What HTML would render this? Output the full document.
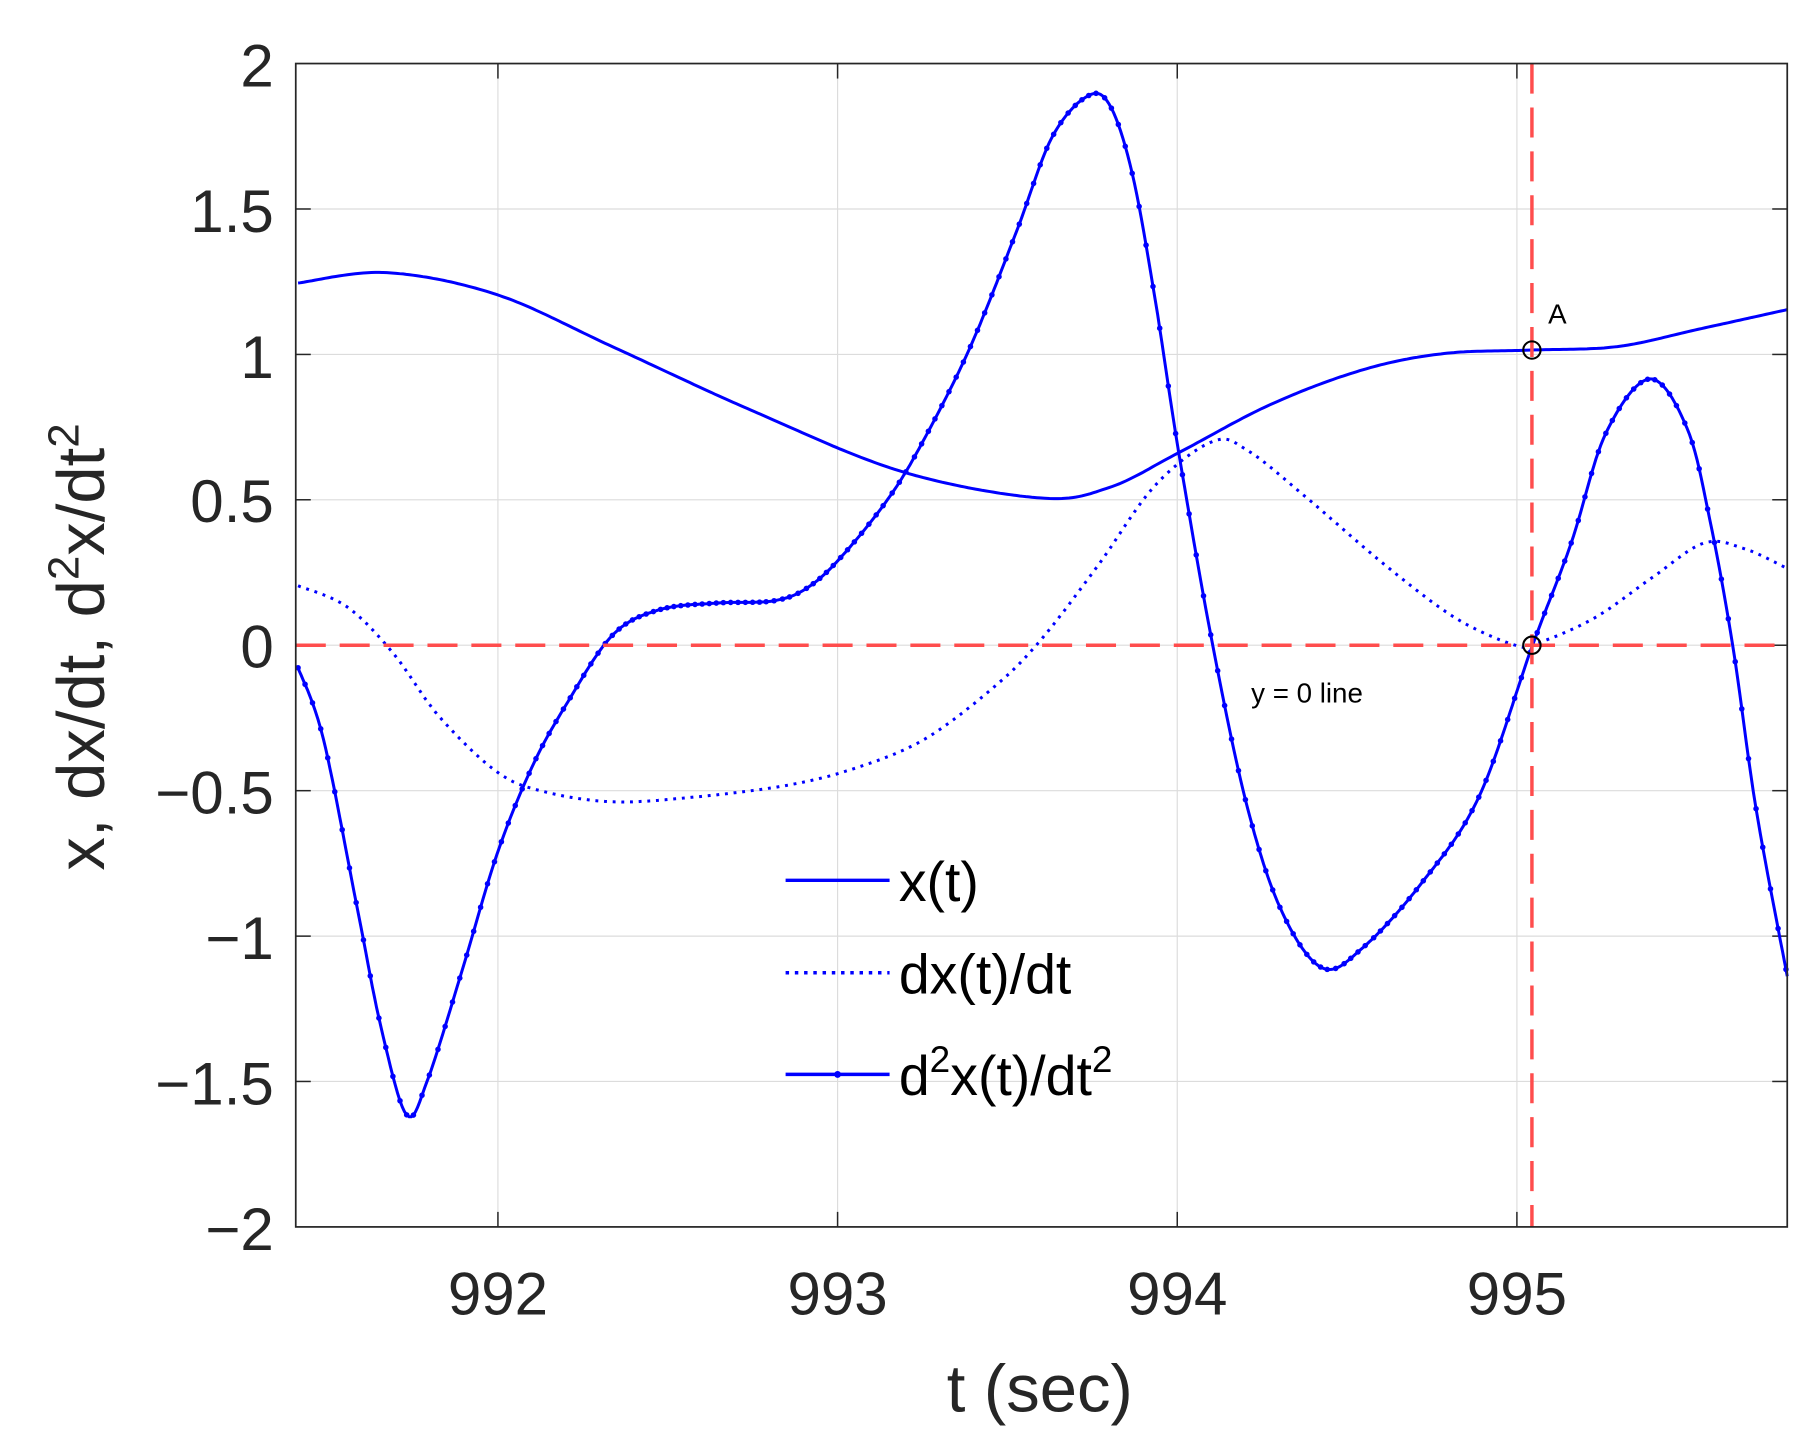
<!DOCTYPE html>
<html><head><meta charset="utf-8"><style>
html,body{margin:0;padding:0;background:#fff;}
svg{display:block;}
text{font-family:"Liberation Sans",sans-serif;fill:#262626;}
</style></head><body>
<svg id="s" width="1810" height="1453" viewBox="0 0 1566.7 1257.7" preserveAspectRatio="none" xmlns="http://www.w3.org/2000/svg">
<rect x="0" y="0" width="1566.7" height="1257.7" fill="#fff"/>
<g stroke="#dcdcdc" stroke-width="1">
<line x1="431" y1="55" x2="431" y2="1062"/><line x1="725" y1="55" x2="725" y2="1062"/>
<line x1="1019" y1="55" x2="1019" y2="1062"/><line x1="1313" y1="55" x2="1313" y2="1062"/>
<line x1="256" y1="180.9" x2="1547" y2="180.9"/><line x1="256" y1="306.8" x2="1547" y2="306.8"/>
<line x1="256" y1="432.6" x2="1547" y2="432.6"/><line x1="256" y1="558.5" x2="1547" y2="558.5"/>
<line x1="256" y1="684.4" x2="1547" y2="684.4"/><line x1="256" y1="810.3" x2="1547" y2="810.3"/>
<line x1="256" y1="936.1" x2="1547" y2="936.1"/>
</g>
<g stroke="#262626" stroke-width="1.3">
<line x1="431" y1="1062" x2="431" y2="1049"/><line x1="725" y1="1062" x2="725" y2="1049"/>
<line x1="1019" y1="1062" x2="1019" y2="1049"/><line x1="1313" y1="1062" x2="1313" y2="1049"/>
<line x1="431" y1="55" x2="431" y2="68"/><line x1="725" y1="55" x2="725" y2="68"/>
<line x1="1019" y1="55" x2="1019" y2="68"/><line x1="1313" y1="55" x2="1313" y2="68"/>
<line x1="256" y1="180.9" x2="269" y2="180.9"/><line x1="256" y1="306.8" x2="269" y2="306.8"/>
<line x1="256" y1="432.6" x2="269" y2="432.6"/><line x1="256" y1="558.5" x2="269" y2="558.5"/>
<line x1="256" y1="684.4" x2="269" y2="684.4"/><line x1="256" y1="810.3" x2="269" y2="810.3"/>
<line x1="256" y1="936.1" x2="269" y2="936.1"/>
<line x1="1547" y1="180.9" x2="1534" y2="180.9"/><line x1="1547" y1="306.8" x2="1534" y2="306.8"/>
<line x1="1547" y1="432.6" x2="1534" y2="432.6"/><line x1="1547" y1="558.5" x2="1534" y2="558.5"/>
<line x1="1547" y1="684.4" x2="1534" y2="684.4"/><line x1="1547" y1="810.3" x2="1534" y2="810.3"/>
<line x1="1547" y1="936.1" x2="1534" y2="936.1"/>
</g>
<g id="curves"></g>
<line x1="256" y1="558.5" x2="1547" y2="558.5" stroke="#ff4d4d" stroke-width="3" stroke-dasharray="26,12"/>
<line x1="1326" y1="55" x2="1326" y2="1062" stroke="#ff4d4d" stroke-width="3" stroke-dasharray="26,12"/>
<circle cx="1326" cy="303" r="7.5" fill="none" stroke="#000" stroke-width="1.8"/>
<circle cx="1326" cy="558.5" r="7.5" fill="none" stroke="#000" stroke-width="1.8"/>
<text x="1340" y="280" font-size="24" style="fill:#000">A</text>
<text x="1083" y="608" font-size="24" style="fill:#000">y = 0 line</text>
<rect x="256" y="55" width="1291" height="1007" fill="none" stroke="#262626" stroke-width="1.5"/>
<g font-size="52" text-anchor="end">
<text x="237" y="75">2</text><text x="237" y="201">1.5</text><text x="237" y="327">1</text>
<text x="237" y="452">0.5</text><text x="237" y="578">0</text><text x="237" y="704">−0.5</text>
<text x="237" y="830">−1</text><text x="237" y="956">−1.5</text><text x="237" y="1082">−2</text>
</g>
<g font-size="52" text-anchor="middle">
<text x="431" y="1138">992</text><text x="725" y="1138">993</text>
<text x="1019" y="1138">994</text><text x="1313" y="1138">995</text>
<text x="900" y="1222" font-size="58">t (sec)</text>
</g>
<text transform="translate(90,560) rotate(-90)" font-size="58" text-anchor="middle">x, dx/dt, d<tspan dy="-22" font-size="38">2</tspan><tspan dy="22">x/dt</tspan><tspan dy="-22" font-size="38">2</tspan></text>
<g stroke="#0000ff" stroke-width="3">
<line x1="680" y1="762" x2="770" y2="762"/>
<line x1="680" y1="842" x2="770" y2="842" stroke-dasharray="3,5"/>
<line x1="680" y1="930" x2="770" y2="930"/>
</g>
<circle cx="725" cy="930" r="3" fill="#0000ff"/>
<g font-size="48" style="fill:#000">
<text x="778" y="780" style="fill:#000">x(t)</text>
<text x="778" y="860" style="fill:#000">dx(t)/dt</text>
<text x="778" y="948" style="fill:#000">d<tspan dy="-20" font-size="32">2</tspan><tspan dy="20">x(t)/dt</tspan><tspan dy="-20" font-size="32">2</tspan></text>
</g>
</svg>
<script>
function cr(pts,step){var out=[];for(var i=0;i<pts.length-1;i++){var p0=pts[Math.max(0,i-1)],p1=pts[i],p2=pts[i+1],p3=pts[Math.min(pts.length-1,i+2)];var n=Math.max(2,Math.ceil((p2[0]-p1[0])/step));for(var k=0;k<n;k++){var t=k/n,t2=t*t,t3=t2*t;var f=function(a,b,c,d){return 0.5*((2*b)+(-a+c)*t+(2*a-5*b+4*c-d)*t2+(-a+3*b-3*c+d)*t3);};out.push([f(p0[0],p1[0],p2[0],p3[0]),f(p0[1],p1[1],p2[1],p3[1])]);}}out.push(pts[pts.length-1]);return out;}
var X=[[258,245],[335,236],[430,255],[530,300],[650,355],[780,408],[900,431],[960,422],[1020,392],[1100,350],[1180,320],[1250,306],[1326,303],[1400,300],[1470,285],[1547,268]];
var D=[[258,507],[300,525],[340,565],[380,620],[430,668],[470,685],[530,694],[600,690],[680,680],[740,665],[800,640],[860,595],[900,555],[950,490],[1000,420],[1050,382],[1080,390],[1130,430],[1200,490],[1260,535],[1310,558],[1330,557],[1380,535],[1430,500],[1475,470],[1510,475],[1547,492]];
var A=[[258,578],[280,640],[310,790],[330,890],[352,965],[370,935],[400,840],[430,740],[460,665],[490,610],[530,550],[570,528],[620,522],[670,520],[700,508],[730,480],[770,430],[800,380],[840,300],[880,200],[910,120],[940,84],[960,90],[980,150],[1000,260],[1020,390],[1050,560],[1080,700],[1110,790],[1145,838],[1180,820],[1230,765],[1280,690],[1326,560],[1360,470],[1390,375],[1428,328],[1460,370],[1480,450],[1500,560],[1520,700],[1547,845]];
var g=document.getElementById('curves'),NS='http://www.w3.org/2000/svg';
function pl(pts,dash){var e=document.createElementNS(NS,'polyline');e.setAttribute('points',pts.map(function(p){return p[0].toFixed(1)+','+p[1].toFixed(1)}).join(' '));e.setAttribute('fill','none');e.setAttribute('stroke','#0000ff');e.setAttribute('stroke-width','2.6');if(dash)e.setAttribute('stroke-dasharray',dash);g.appendChild(e);}
pl(cr(X,3));pl(cr(D,3),'2.5,5');var a=cr(A,2);pl(a);
var last=-99;for(var i=0;i<a.length;i++){if(a[i][0]-last>=5.6){last=a[i][0];var c=document.createElementNS(NS,'circle');c.setAttribute('cx',a[i][0]);c.setAttribute('cy',a[i][1]);c.setAttribute('r','2.4');c.setAttribute('fill','#0000ff');g.appendChild(c);}}
</script>
</body></html>
